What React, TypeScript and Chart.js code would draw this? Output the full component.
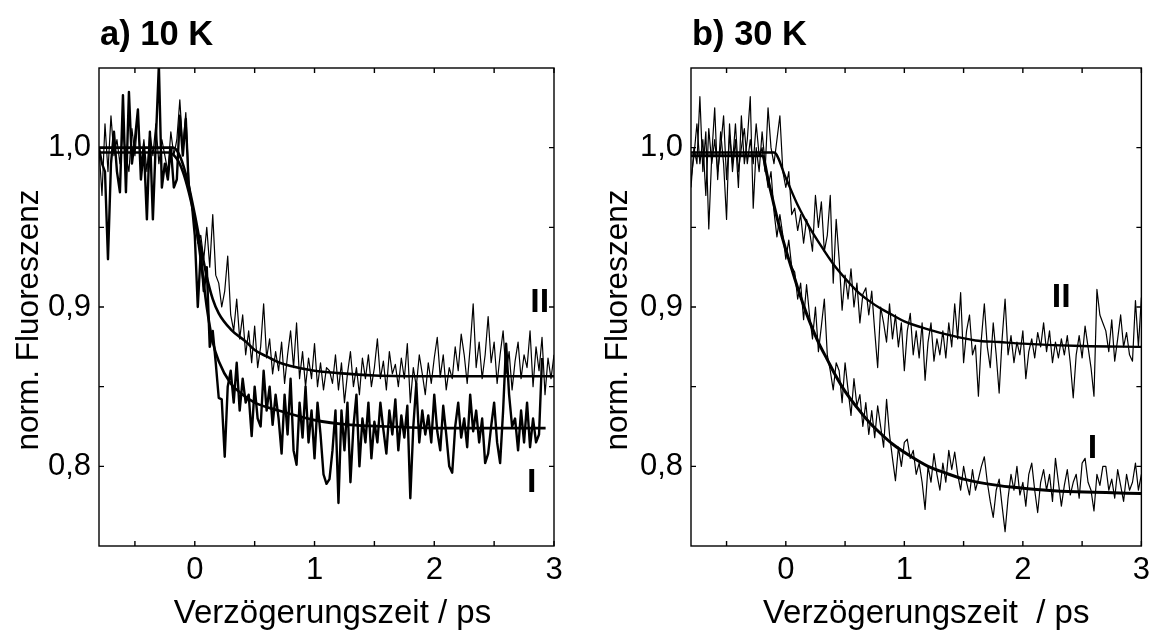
import React, { useEffect, useRef } from 'react';
import { Chart, registerables } from 'chart.js';

Chart.register(...registerables);

const FONT = '"Liberation Sans", Arial, Helvetica, sans-serif';

// sampling of the measured traces (ps)
const T_START = -0.8;
const T_STEP = 0.025;

// axis ticks
const X_MAJOR = [0, 1, 2, 3];
const X_MINOR = [-0.5, 0.5, 1.5, 2.5];
const Y_MAJOR = [0.8, 0.9, 1.0];
const Y_MINOR = [0.85, 0.95];

// ---------- panel a) 10 K ----------
const A_I_DATA = [
  1.0, 0.99, 0.985, 0.93, 0.99, 1.01, 0.985, 0.972, 1.033, 0.972,
  1.035, 0.99, 1.005, 1.024, 0.98, 1.0, 0.955, 1.01, 0.955, 1.005,
  1.052, 0.975, 0.99, 0.98, 1.0, 0.975, 0.98, 1.02, 0.995, 1.018,
  0.975, 0.965, 0.945, 0.9, 0.935, 0.91, 0.925, 0.875, 0.885, 0.865,
  0.843, 0.842, 0.806, 0.85, 0.86, 0.84, 0.865, 0.835, 0.855, 0.84,
  0.845, 0.819, 0.85, 0.83, 0.825, 0.86, 0.835, 0.85, 0.826, 0.845,
  0.83, 0.808, 0.845, 0.82, 0.855, 0.81, 0.801, 0.84, 0.818, 0.85,
  0.815, 0.835, 0.805, 0.84, 0.82, 0.795, 0.789, 0.792, 0.81, 0.835,
  0.777, 0.835, 0.81, 0.84, 0.79, 0.825, 0.845, 0.8, 0.83, 0.815,
  0.84, 0.805, 0.828, 0.815, 0.84, 0.823, 0.808, 0.835, 0.82, 0.842,
  0.81, 0.832, 0.818, 0.838, 0.78, 0.825, 0.852, 0.815, 0.835, 0.82,
  0.832, 0.815, 0.845, 0.822, 0.81, 0.838, 0.82, 0.8, 0.796, 0.825,
  0.84, 0.818, 0.83, 0.812, 0.845, 0.822, 0.835, 0.815, 0.83, 0.802,
  0.808, 0.825, 0.84, 0.815, 0.802, 0.835, 0.877, 0.845, 0.825, 0.83,
  0.81, 0.835, 0.815, 0.84, 0.812, 0.83, 0.815, 0.82, 0.868,
];

const A_II_DATA = [
  1.0, 0.97, 1.015, 0.985, 1.02, 0.995, 1.005, 0.99, 1.01, 0.995,
  0.985, 1.012, 0.995, 1.02, 0.99, 1.005, 0.985, 1.01, 0.995, 1.015,
  0.99, 1.005, 0.995, 0.985, 1.01, 0.995, 1.005, 1.03, 1.0, 1.022,
  0.98, 0.965, 0.958, 0.94, 0.945, 0.93, 0.95, 0.925, 0.958, 0.92,
  0.915, 0.9, 0.91, 0.932, 0.895, 0.885, 0.905, 0.88, 0.895, 0.87,
  0.885, 0.865, 0.888, 0.862, 0.875, 0.902, 0.868, 0.88, 0.858, 0.872,
  0.86, 0.878, 0.852, 0.87, 0.885, 0.862, 0.89, 0.855, 0.872, 0.85,
  0.868, 0.855, 0.877, 0.85, 0.865, 0.848, 0.862, 0.86, 0.852, 0.87,
  0.848, 0.865, 0.84, 0.858, 0.872, 0.85, 0.862, 0.845, 0.868, 0.855,
  0.87, 0.85, 0.862, 0.88, 0.855, 0.866, 0.848, 0.872, 0.858, 0.864,
  0.85, 0.868, 0.855, 0.877, 0.84, 0.862, 0.85, 0.87, 0.858, 0.845,
  0.865, 0.852, 0.868, 0.881, 0.856, 0.87, 0.848, 0.862, 0.855, 0.875,
  0.86, 0.883, 0.87, 0.852, 0.875, 0.902, 0.862, 0.878, 0.855, 0.87,
  0.894, 0.865, 0.878, 0.852, 0.87, 0.885, 0.858, 0.872, 0.848, 0.866,
  0.878, 0.855, 0.87, 0.862, 0.885, 0.85, 0.875, 0.86, 0.881, 0.845,
  0.868, 0.855, 0.87,
];

const A_FIT_I_X = [-0.8, -0.22, -0.15, -0.1, -0.05, 0, 0.05, 0.1, 0.15, 0.2, 0.3, 0.4, 0.5, 0.7, 1.0, 1.3, 1.6, 2.0, 2.5, 2.93];
const A_FIT_I_Y = [0.997, 0.997, 0.993, 0.985, 0.972, 0.955, 0.93, 0.9, 0.878, 0.866, 0.852, 0.845, 0.84, 0.835, 0.829, 0.826, 0.825, 0.824, 0.824, 0.824];

const A_FIT_II_X = [-0.8, -0.18, -0.12, -0.06, 0, 0.05, 0.1, 0.15, 0.2, 0.3, 0.43, 0.5, 0.6, 0.71, 0.8, 1.0, 1.2, 1.5, 2.0, 3.0];
const A_FIT_II_Y = [1.0, 1.0, 0.994, 0.979, 0.958, 0.938, 0.919, 0.905, 0.896, 0.886, 0.878, 0.873, 0.869, 0.865, 0.863, 0.86, 0.8585, 0.857, 0.8565, 0.8565];

// ---------- panel b) 30 K ----------
const B_I_DATA = [
  0.975, 1.0, 0.99, 1.032, 0.985, 1.01, 0.949, 0.995, 1.025, 0.98,
  1.01, 0.99, 0.955, 1.015, 0.985, 1.005, 0.975, 1.02, 0.99, 1.005,
  1.032, 0.962, 1.0, 0.985, 1.01, 0.99, 0.975, 0.985, 0.96, 0.944,
  0.958, 0.945, 0.93, 0.942, 0.925, 0.922, 0.905, 0.915, 0.892, 0.914,
  0.895, 0.88, 0.9, 0.872, 0.888, 0.905, 0.87, 0.86, 0.848, 0.865,
  0.86, 0.84, 0.865, 0.848, 0.832, 0.855, 0.838, 0.845, 0.825, 0.84,
  0.82, 0.835, 0.818, 0.838, 0.825, 0.812, 0.842, 0.82, 0.805, 0.791,
  0.812, 0.8, 0.815, 0.817, 0.805, 0.81, 0.795, 0.802, 0.79, 0.773,
  0.8, 0.79, 0.808, 0.795, 0.785, 0.802, 0.79, 0.81, 0.798, 0.809,
  0.795, 0.785, 0.8, 0.79, 0.782, 0.798, 0.785, 0.792, 0.8, 0.806,
  0.79, 0.778, 0.768, 0.785, 0.792, 0.775, 0.759, 0.78, 0.795, 0.785,
  0.8, 0.782, 0.79, 0.775, 0.795, 0.802, 0.785, 0.771, 0.79, 0.798,
  0.785, 0.795, 0.778, 0.805, 0.79, 0.775, 0.788, 0.798, 0.782, 0.79,
  0.795, 0.78, 0.802, 0.805, 0.79, 0.785, 0.772, 0.795, 0.788, 0.8,
  0.8, 0.785, 0.792, 0.78, 0.798, 0.788, 0.778, 0.795, 0.785, 0.79,
  0.802, 0.785, 0.795,
];

const B_II_DATA = [
  0.98, 0.995, 1.015, 0.99, 1.005, 0.97, 1.012, 0.99, 1.005, 0.985,
  1.0, 1.02, 0.98, 1.008, 0.99, 1.015, 0.985, 1.0, 1.012, 0.99,
  1.005, 0.99, 1.015, 0.995, 1.0, 0.985, 1.025, 1.0, 0.99, 1.005,
  1.02, 0.985, 0.975, 0.985, 0.958, 0.962, 0.948, 0.958, 0.94, 0.955,
  0.948, 0.935, 0.97, 0.95, 0.966, 0.935, 0.945, 0.97, 0.915, 0.955,
  0.93, 0.898, 0.92, 0.905, 0.924, 0.9, 0.915, 0.89, 0.908, 0.912,
  0.895, 0.91, 0.885, 0.862, 0.9, 0.89, 0.878, 0.902, 0.88, 0.895,
  0.875, 0.89, 0.86, 0.885, 0.896, 0.87, 0.885, 0.868, 0.89, 0.854,
  0.878, 0.89, 0.866, 0.88, 0.87, 0.885, 0.868, 0.89, 0.875, 0.902,
  0.88, 0.909, 0.865, 0.885, 0.895, 0.87, 0.876, 0.844, 0.88, 0.902,
  0.875, 0.862, 0.89, 0.87, 0.846, 0.88, 0.905, 0.87, 0.882, 0.865,
  0.878, 0.87, 0.885, 0.855, 0.872, 0.88, 0.868, 0.884, 0.875, 0.89,
  0.872, 0.885, 0.865, 0.878, 0.868, 0.88, 0.87, 0.882, 0.865, 0.843,
  0.87, 0.882, 0.868, 0.888, 0.875, 0.862, 0.844, 0.911, 0.895, 0.89,
  0.885, 0.872, 0.892, 0.866, 0.88, 0.895, 0.875, 0.884, 0.87, 0.866,
  0.904, 0.875, 0.906,
];

const B_FIT_I_X = [-0.8, -0.2, -0.15, -0.1, -0.05, 0, 0.05, 0.1, 0.15, 0.2, 0.28, 0.35, 0.42, 0.5, 0.6, 0.7, 0.78, 0.9, 1.06, 1.2, 1.34, 1.5, 1.7, 1.9, 2.2, 2.45, 3.0];
const B_FIT_I_Y = [0.995, 0.995, 0.98, 0.964, 0.949, 0.936, 0.924, 0.912, 0.901, 0.891, 0.877, 0.867, 0.857, 0.847, 0.837, 0.828, 0.822, 0.814, 0.806, 0.8, 0.796, 0.792, 0.789, 0.787, 0.785, 0.784, 0.783];

const B_FIT_II_X = [-0.8, -0.1, 0, 0.1, 0.2, 0.3, 0.4, 0.5, 0.6, 0.7, 0.8, 0.9, 1.0, 1.2, 1.4, 1.6, 1.8, 2.0, 2.5, 3.0];
const B_FIT_II_Y = [0.997, 0.997, 0.981, 0.964, 0.95, 0.938, 0.927, 0.918, 0.91, 0.904, 0.899, 0.895, 0.891, 0.886, 0.882, 0.879, 0.878, 0.877, 0.8755, 0.875];

const CANVAS_W = 578;
const CANVAS_H = 630;

function series(values: number[]) {
  return values.map((v, i) => ({ x: Math.round((T_START + i * T_STEP) * 1000) / 1000, y: v }));
}
function pairs(xs: number[], ys: number[]) {
  return xs.map((x, i) => ({ x, y: ys[i] }));
}

const framePlugin = {
  id: 'frame',
  afterDatasetsDraw(chart: any, _args: any, o: any) {
    const { ctx, chartArea: a } = chart;
    const xs = chart.scales.x;
    const ys = chart.scales.y;
    ctx.save();
    ctx.strokeStyle = '#000';
    ctx.lineWidth = 1.4;
    ctx.strokeRect(a.left, a.top, a.right - a.left, a.bottom - a.top);
    ctx.beginPath();
    const L = 5;
    for (const v of [...X_MAJOR, ...X_MINOR]) {
      const p = xs.getPixelForValue(v);
      ctx.moveTo(p, a.bottom);
      ctx.lineTo(p, a.bottom - L);
      ctx.moveTo(p, a.top);
      ctx.lineTo(p, a.top + L);
    }
    for (const v of [...Y_MAJOR, ...Y_MINOR]) {
      const p = ys.getPixelForValue(v);
      ctx.moveTo(a.left, p);
      ctx.lineTo(a.left + L, p);
      ctx.moveTo(a.right, p);
      ctx.lineTo(a.right - L, p);
    }
    ctx.stroke();

    ctx.fillStyle = '#000';
    ctx.textBaseline = 'alphabetic';
    ctx.textAlign = 'left';
    ctx.font = `bold 34.5px ${FONT}`;
    ctx.fillText(o.title, a.left + 1, 45);

    ctx.textAlign = 'center';
    ctx.font = `bold 34px ${FONT}`;
    for (const lab of o.labels) {
      ctx.fillText(lab.text, xs.getPixelForValue(lab.x), ys.getPixelForValue(lab.y));
    }

    ctx.font = `33px ${FONT}`;
    ctx.fillText(o.xTitle, (a.left + a.right) / 2 + o.xTitleShift, 623);

    ctx.font = `31.5px ${FONT}`;
    ctx.translate(o.yTitleX, 320);
    ctx.rotate(-Math.PI / 2);
    ctx.fillText('norm. Fluoreszenz', 0, 0);
    ctx.restore();
  },
};

type PanelCfg = {
  title: string;
  xTitle: string;
  xTitleShift: number;
  yTitleX: number;
  plotLeft: number;
  padRight: number;
  labels: { text: string; x: number; y: number }[];
  datasets: any[];
};

const PANEL_A: PanelCfg = {
  title: 'a) 10 K',
  xTitle: 'Verzögerungszeit / ps',
  xTitleShift: 6,
  yTitleX: 38,
  plotLeft: 99,
  padRight: 24,
  labels: [
    { text: 'II', x: 2.88, y: 0.897 },
    { text: 'I', x: 2.813, y: 0.784 },
  ],
  datasets: [
    { data: pairs(A_FIT_I_X, A_FIT_I_Y), borderWidth: 2.6, cubicInterpolationMode: 'monotone' },
    { data: pairs(A_FIT_II_X, A_FIT_II_Y), borderWidth: 2.6, cubicInterpolationMode: 'monotone' },
    { data: series(A_I_DATA), borderWidth: 2.4 },
    { data: series(A_II_DATA), borderWidth: 1.2 },
  ],
};

const PANEL_B: PanelCfg = {
  title: 'b) 30 K',
  xTitle: 'Verzögerungszeit  / ps',
  xTitleShift: 10,
  yTitleX: 49,
  plotLeft: 113,
  padRight: 10,
  labels: [
    { text: 'II', x: 2.324, y: 0.9 },
    { text: 'I', x: 2.587, y: 0.805 },
  ],
  datasets: [
    { data: pairs(B_FIT_I_X, B_FIT_I_Y), borderWidth: 3, cubicInterpolationMode: 'monotone' },
    { data: pairs(B_FIT_II_X, B_FIT_II_Y), borderWidth: 2.4, cubicInterpolationMode: 'monotone' },
    { data: series(B_I_DATA), borderWidth: 1.2 },
    { data: series(B_II_DATA), borderWidth: 1.2 },
  ],
};

function Panel({ cfg, left }: { cfg: PanelCfg; left: number }) {
  const ref = useRef<HTMLCanvasElement>(null);
  useEffect(() => {
    if (!ref.current) return;
    const chart = new Chart(ref.current, {
      type: 'line',
      data: {
        datasets: cfg.datasets.map((d) => ({
          ...d,
          borderColor: '#000',
          backgroundColor: '#000',
          pointRadius: 0,
          pointHoverRadius: 0,
          fill: false,
          tension: d.cubicInterpolationMode ? 0.4 : 0,
          borderJoinStyle: 'round',
        })),
      },
      options: {
        animation: false,
        responsive: false,
        devicePixelRatio: 1,
        events: [],
        layout: { padding: { left: 0, top: 68, right: cfg.padRight, bottom: 0 } },
        plugins: {
          legend: { display: false },
          tooltip: { enabled: false },
          title: { display: false },
          frame: {
            title: cfg.title,
            xTitle: cfg.xTitle,
            xTitleShift: cfg.xTitleShift,
            yTitleX: cfg.yTitleX,
            labels: cfg.labels,
          },
        } as any,
        scales: {
          x: {
            type: 'linear',
            min: -0.8,
            max: 3,
            grid: { display: false, drawTicks: false },
            border: { display: false },
            ticks: {
              color: '#000',
              font: { family: FONT, size: 31 },
              padding: 6,
              maxRotation: 0,
              autoSkip: false,
              callback: (v: any) => String(v),
            },
            afterBuildTicks: (s: any) => {
              s.ticks = X_MAJOR.map((value) => ({ value }));
            },
            afterFit: (s: any) => {
              s.height = CANVAS_H - 546;
            },
          },
          y: {
            type: 'linear',
            min: 0.75,
            max: 1.05,
            grid: { display: false, drawTicks: false },
            border: { display: false },
            ticks: {
              color: '#000',
              font: { family: FONT, size: 31 },
              padding: 8,
              autoSkip: false,
              callback: (v: any) => Number(v).toFixed(1).replace('.', ','),
            },
            afterBuildTicks: (s: any) => {
              s.ticks = Y_MAJOR.map((value) => ({ value }));
            },
            afterFit: (s: any) => {
              s.width = cfg.plotLeft;
            },
          },
        },
      } as any,
      plugins: [framePlugin as any],
    });
    return () => chart.destroy();
  }, [cfg]);
  return (
    <canvas
      ref={ref}
      width={CANVAS_W}
      height={CANVAS_H}
      style={{ position: 'absolute', left, top: 0, width: CANVAS_W, height: CANVAS_H }}
    />
  );
}

export default function App() {
  return (
    <div style={{ position: 'fixed', left: 0, top: 0, width: 1156, height: 630, background: '#fff', overflow: 'hidden' }}>
      <Panel cfg={PANEL_A} left={0} />
      <Panel cfg={PANEL_B} left={CANVAS_W} />
    </div>
  );
}
